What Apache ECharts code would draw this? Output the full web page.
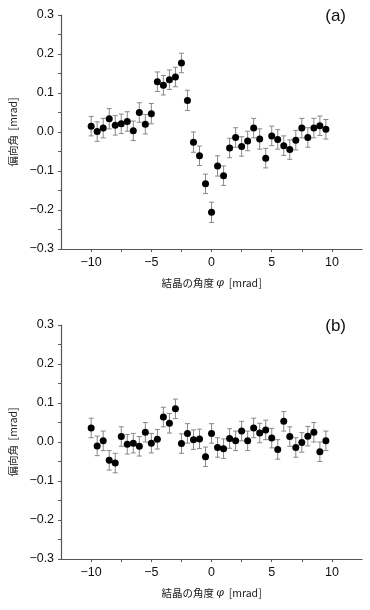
<!DOCTYPE html>
<html><head><meta charset="utf-8">
<script src="https://cdn.jsdelivr.net/npm/echarts@6/dist/echarts.min.js"></script>
<style>html,body{margin:0;padding:0;background:#fff}#c{width:370px;height:610px}</style>
</head><body><div id="c"></div>
<script>
const phi = [-10,-9.5,-9,-8.5,-8,-7.5,-7,-6.5,-6,-5.5,-5,-4.5,-4,-3.5,-3,-2.5,-2,-1.5,-1,-0.5,0,0.5,1,1.5,2,2.5,3,3.5,4,4.5,5,5.5,6,6.5,7,7.5,8,8.5,9,9.5];
const defA = [0.015,0.001,0.010,0.034,0.017,0.021,0.027,0.003,0.050,0.020,0.047,0.129,0.120,0.134,0.141,0.177,0.081,-0.026,-0.061,-0.133,-0.206,-0.087,-0.112,-0.041,-0.014,-0.037,-0.023,0.010,-0.018,-0.067,-0.010,-0.019,-0.035,-0.045,-0.021,0.010,-0.014,0.010,0.016,0.007];
const errA = [0.025,0.025,0.025,0.026,0.025,0.025,0.025,0.025,0.025,0.025,0.026,0.025,0.025,0.025,0.025,0.025,0.026,0.026,0.025,0.025,0.026,0.026,0.025,0.025,0.025,0.025,0.025,0.025,0.026,0.025,0.025,0.025,0.025,0.025,0.025,0.025,0.025,0.025,0.025,0.025];
const defB = [0.036,-0.010,0.003,-0.047,-0.054,0.014,-0.006,-0.003,-0.011,0.025,-0.003,0.007,0.064,0.048,0.085,-0.004,0.022,0.006,0.008,-0.038,0.022,-0.014,-0.017,0.009,0.003,0.028,0.003,0.036,0.023,0.031,0.010,-0.019,0.053,0.014,-0.014,-0.001,0.015,0.025,-0.025,0.003];
const errB = [0.025,0.025,0.025,0.025,0.025,0.025,0.025,0.025,0.025,0.025,0.025,0.025,0.025,0.025,0.025,0.025,0.025,0.025,0.025,0.025,0.025,0.025,0.025,0.025,0.025,0.025,0.025,0.025,0.025,0.025,0.025,0.025,0.025,0.025,0.025,0.025,0.025,0.025,0.025,0.025];
const xLabelVals = [-10,-5,0,5,10];
const xTickVals = [-10,-7.5,-5,-2.5,0,2.5,5,7.5,10];
const panelLabels = ['(a)','(b)'];
const xTitleParts = ['結晶の角度 ', 'φ', '  [mrad]'];
const yTitle = '偏向角  [mrad]';

const font = 'Liberation Sans, Arial, sans-serif';
const axisColor = '#555';
const cjk = 'Noto Sans CJK JP';
function xAxisDef(gi){
  return {type:'value', gridIndex:gi, min:-12.5, max:12.5,
    name:'{c|'+xTitleParts[0]+'}{i|'+xTitleParts[1]+'}{c|'+xTitleParts[2]+'}', nameLocation:'middle', nameGap:29,
    nameTextStyle:{fontFamily:cjk, fontSize:10.5, color:'#222',
      rich:{c:{fontFamily:cjk, fontSize:10.5, color:'#222'}, i:{fontFamily:'DejaVu Serif', fontStyle:'italic', fontSize:11, color:'#222'}}},
    axisLine:{show:true, onZero:false, lineStyle:{color:axisColor,width:1.2}},
    axisTick:{show:true, inside:false, length:3, customValues:xTickVals, lineStyle:{color:axisColor}},
    axisLabel:{show:true, customValues:xLabelVals, margin:7, fontFamily:font, fontSize:12.5, color:'#111',
      formatter:v=>String(v).replace('-','−')},
    splitLine:{show:false}};
}
function yAxisDef(gi){
  return {type:'value', gridIndex:gi, min:-0.3, max:0.3, interval:0.1,
    name:yTitle, nameLocation:'middle', nameGap:36, nameRotate:90,
    nameTextStyle:{fontFamily:cjk, fontSize:10.5, color:'#222'},
    axisLine:{show:true, onZero:false, lineStyle:{color:axisColor,width:1.2}},
    axisTick:{show:true, inside:false, length:3, lineStyle:{color:axisColor}},
    minorTick:{show:true, splitNumber:2, length:3, lineStyle:{color:axisColor}},
    axisLabel:{margin:7, fontFamily:font, fontSize:12.5, color:'#111',
      formatter:v=>v.toFixed(1).replace('-','−')},
    splitLine:{show:false}};
}
function errSeries(gi, ys, es){
  return {type:'custom', xAxisIndex:gi, yAxisIndex:gi, z:1,
    data: phi.map((x,i)=>[x, ys[i]-es[i], ys[i]+es[i]]),
    renderItem:(params, api)=>{
      const lo = api.coord([api.value(0), api.value(1)]);
      const hi = api.coord([api.value(0), api.value(2)]);
      const w = 2.5;
      const st = {stroke:'#888', lineWidth:1};
      return {type:'group', children:[
        {type:'line', shape:{x1:lo[0],y1:lo[1],x2:hi[0],y2:hi[1]}, style:st},
        {type:'line', shape:{x1:lo[0]-w,y1:lo[1],x2:lo[0]+w,y2:lo[1]}, style:st},
        {type:'line', shape:{x1:hi[0]-w,y1:hi[1],x2:hi[0]+w,y2:hi[1]}, style:st}
      ]};
    }};
}
function ptSeries(gi, ys){
  return {type:'scatter', xAxisIndex:gi, yAxisIndex:gi, z:3, symbol:'circle', symbolSize:7,
    itemStyle:{color:'#000', opacity:1}, emphasis:{disabled:true}, data: phi.map((x,i)=>[x, ys[i]])};
}
const chart = echarts.init(document.getElementById('c'), null, {renderer:'canvas'});
chart.setOption({
  animation:false,
  backgroundColor:'#fff',
  grid:[{left:57, right:8, top:15, height:234},{left:57, right:8, top:325, height:234}],
  xAxis:[xAxisDef(0), xAxisDef(1)],
  yAxis:[yAxisDef(0), yAxisDef(1)],
  graphic:[
    {type:'text', right:24, top:8, style:{text:panelLabels[0], font:'17px Liberation Sans, Arial', fill:'#111'}},
    {type:'text', right:24, top:318, style:{text:panelLabels[1], font:'17px Liberation Sans, Arial', fill:'#111'}}
  ],
  series:[errSeries(0, defA, errA), ptSeries(0, defA), errSeries(1, defB, errB), ptSeries(1, defB)]
});
</script></body></html>
